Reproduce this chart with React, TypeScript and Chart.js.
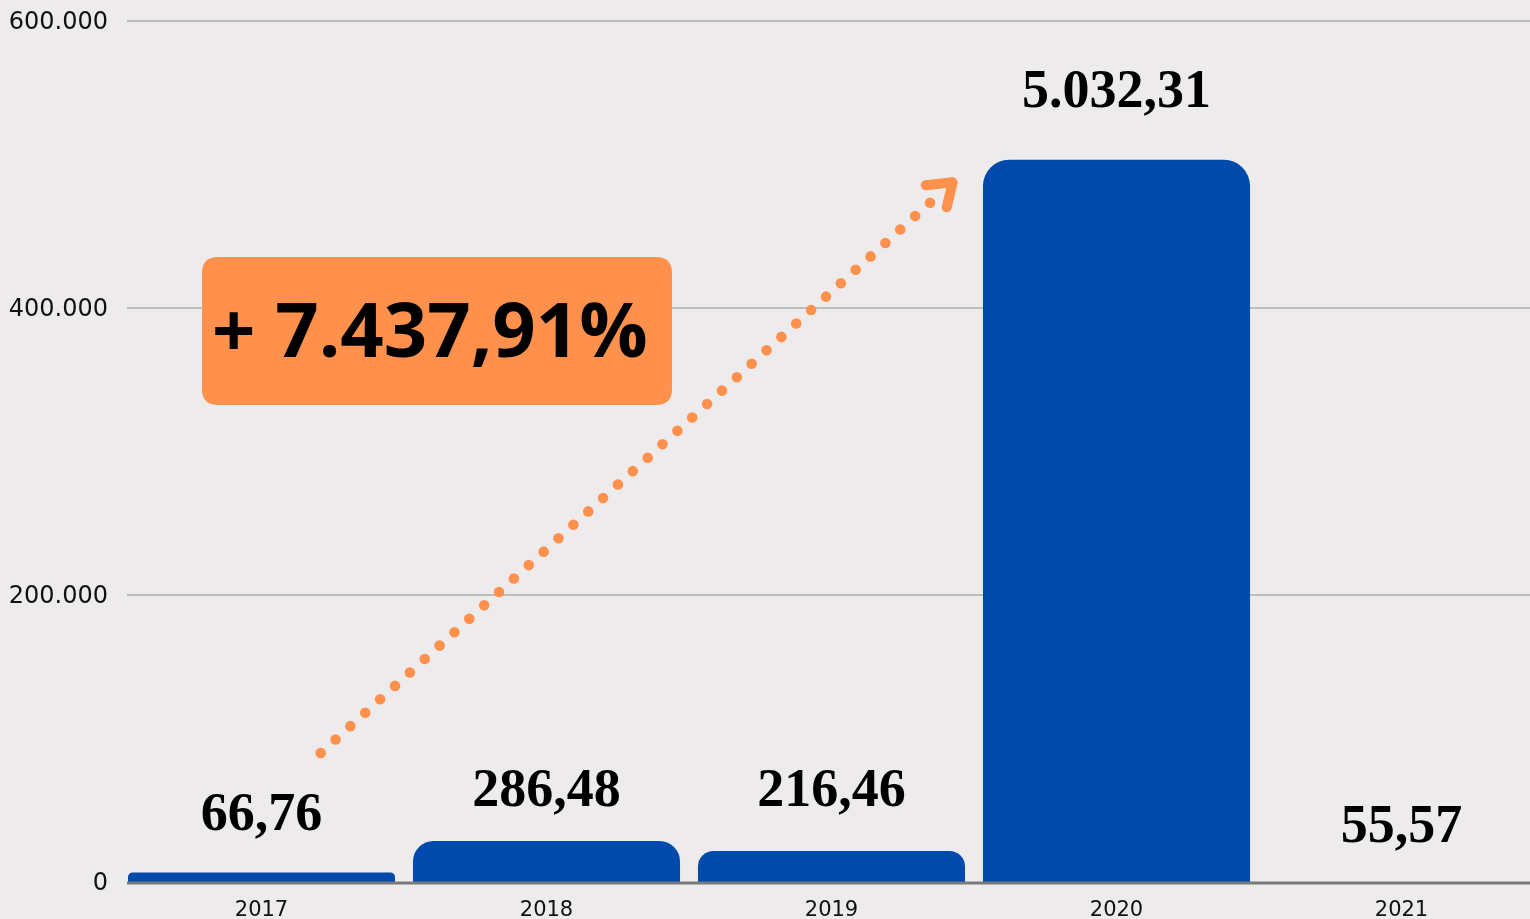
import React, { useEffect, useRef } from "react";
import { Chart, registerables } from "chart.js";

Chart.register(...registerables);

const categories = ["2017", "2018", "2019", "2020", "2021"];
const barValues: (number | null)[] = [6676, 28648, 21646, 503231, null];
const valueLabels = ["66,76", "286,48", "216,46", "5.032,31", "55,57"];
const yTicks = [0, 200000, 400000, 600000];
const growthLabel = "+ 7.437,91%";

// label lift above each bar top (px) - layout only
const labelLift = [42, 35, 45, 53, 40];

const BG = "#edebec";
const BAR = "#004aad";
const ORANGE = "#ff914d";
const GRID = "#bdbdbd";
const AXIS = "#7a7a7a";
const CANVAS_W = 1544;
const CANVAS_H = 919;
const LINE_START_X = 127;

function fmt(v: number) {
  return v.toLocaleString("de-DE");
}

function roundRect(ctx: CanvasRenderingContext2D, x: number, y: number, w: number, h: number, r: number) {
  ctx.beginPath();
  ctx.moveTo(x + r, y);
  ctx.lineTo(x + w - r, y);
  ctx.quadraticCurveTo(x + w, y, x + w, y + r);
  ctx.lineTo(x + w, y + h - r);
  ctx.quadraticCurveTo(x + w, y + h, x + w - r, y + h);
  ctx.lineTo(x + r, y + h);
  ctx.quadraticCurveTo(x, y + h, x, y + h - r);
  ctx.lineTo(x, y + r);
  ctx.quadraticCurveTo(x, y, x + r, y);
  ctx.closePath();
}

const bgPlugin = {
  id: "bg",
  beforeDraw(chart: any) {
    const ctx = chart.ctx;
    ctx.save();
    ctx.fillStyle = BG;
    ctx.fillRect(0, 0, chart.width, chart.height);
    ctx.restore();
  },
  beforeDatasetsDraw(chart: any) {
    const ctx: CanvasRenderingContext2D = chart.ctx;
    const ys = chart.scales.y;
    const right = chart.chartArea.right;
    ctx.save();
    ctx.strokeStyle = GRID;
    ctx.lineWidth = 2;
    yTicks.forEach((v) => {
      if (v === 0) return;
      const y = Math.round(ys.getPixelForValue(v));
      ctx.beginPath();
      ctx.moveTo(LINE_START_X, y);
      ctx.lineTo(right, y);
      ctx.stroke();
    });
    ctx.restore();
  },
};

const overlayPlugin = {
  id: "overlay",
  afterDatasetsDraw(chart: any) {
    const ctx: CanvasRenderingContext2D = chart.ctx;
    const xs = chart.scales.x;
    const ys = chart.scales.y;
    ctx.save();

    // x axis line
    const y0px = ys.getPixelForValue(0);
    ctx.strokeStyle = AXIS;
    ctx.lineWidth = 3;
    ctx.beginPath();
    ctx.moveTo(LINE_START_X, y0px + 1);
    ctx.lineTo(chart.chartArea.right, y0px + 1);
    ctx.stroke();

    // value labels
    ctx.fillStyle = "#000";
    ctx.font = "bold 54px 'Liberation Serif', serif";
    ctx.textAlign = "center";
    ctx.textBaseline = "alphabetic";
    valueLabels.forEach((lab, i) => {
      const v = barValues[i] ?? 0;
      const x = xs.getPixelForValue(i);
      const y = ys.getPixelForValue(v);
      ctx.fillText(lab, x, y - labelLift[i]);
    });

    // dotted arrow
    const x0 = xs.getPixelForValue(0.2077);
    const y0 = ys.getPixelForValue(89900);
    const x1 = xs.getPixelForValue(2.3456);
    const y1 = ys.getPixelForValue(473380);
    const dx = x1 - x0;
    const dy = y1 - y0;
    const len = Math.sqrt(dx * dx + dy * dy);
    const step = len / 41;
    ctx.fillStyle = ORANGE;
    for (let k = 0; k <= 41; k++) {
      const d = k * step;
      ctx.beginPath();
      ctx.arc(x0 + (dx * d) / len, y0 + (dy * d) / len, 5.3, 0, Math.PI * 2);
      ctx.fill();
    }
    const tipX = xs.getPixelForValue(2.4253);
    const tipY = ys.getPixelForValue(487600);
    ctx.strokeStyle = ORANGE;
    ctx.lineWidth = 10;
    ctx.lineCap = "round";
    ctx.lineJoin = "round";
    ctx.beginPath();
    ctx.moveTo(tipX - 27, tipY + 3);
    ctx.lineTo(tipX, tipY);
    ctx.lineTo(tipX - 6, tipY + 25);
    ctx.stroke();

    // growth box
    const bx0 = xs.getPixelForValue(-0.2088);
    const bx1 = xs.getPixelForValue(1.4404);
    const by0 = ys.getPixelForValue(435540);
    const by1 = ys.getPixelForValue(332400);
    ctx.fillStyle = ORANGE;
    roundRect(ctx, bx0, by0, bx1 - bx0, by1 - by0, 16);
    ctx.fill();
    ctx.fillStyle = "#000";
    ctx.font = "bold 76px 'Open Sans', sans-serif";
    ctx.textAlign = "left";
    ctx.textBaseline = "middle";
    ctx.fillText(growthLabel, bx0 + 10, (by0 + by1) / 2 + 4);

    ctx.restore();
  },
};

export default function App() {
  const ref = useRef<HTMLCanvasElement>(null);
  useEffect(() => {
    document.body.style.margin = "0";
    document.body.style.background = BG;
    document.body.style.overflow = "hidden";
    const chart = new Chart(ref.current!, {
      type: "bar",
      data: {
        labels: categories,
        datasets: [
          {
            data: barValues,
            backgroundColor: BAR,
            borderRadius: { topLeft: 26, topRight: 26, bottomLeft: 0, bottomRight: 0 },
            borderSkipped: "start",
            barPercentage: 0.937,
            categoryPercentage: 1,
          },
        ],
      },
      options: {
        animation: false,
        responsive: false,
        maintainAspectRatio: false,
        layout: { padding: { top: 21, right: 0, left: 0, bottom: 0 } },
        plugins: { legend: { display: false }, tooltip: { enabled: false } },
        scales: {
          x: {
            grid: { display: false, drawTicks: false },
            border: { display: false },
            ticks: {
              color: "#111",
              font: { family: "'DejaVu Sans', sans-serif", size: 21 },
              padding: 16,
            },
            afterFit(scale: any) {
              scale.height = 37;
              scale.paddingLeft = 0;
              scale.paddingRight = 0;
            },
          },
          y: {
            min: 0,
            max: 600000,
            afterBuildTicks(scale: any) {
              scale.ticks = yTicks.map((v) => ({ value: v }));
            },
            grid: { display: false, drawTicks: false },
            border: { display: false },
            ticks: {
              color: "#111",
              font: { family: "'DejaVu Sans', sans-serif", size: 24 },
              padding: 11,
              labelOffset: 2,
              callback: (v: any) => fmt(Number(v)),
            },
            afterFit(scale: any) {
              scale.width = 119;
              scale.paddingTop = 0;
              scale.paddingBottom = 0;
            },
          },
        },
      },
      plugins: [bgPlugin, overlayPlugin],
    });
    return () => chart.destroy();
  }, []);
  return (
    <div style={{ position: "absolute", left: 0, top: 0, width: 1530, height: 919, overflow: "hidden", background: BG }}>
      <canvas ref={ref} width={CANVAS_W} height={CANVAS_H} style={{ width: CANVAS_W, height: CANVAS_H, display: "block" }} />
    </div>
  );
}
